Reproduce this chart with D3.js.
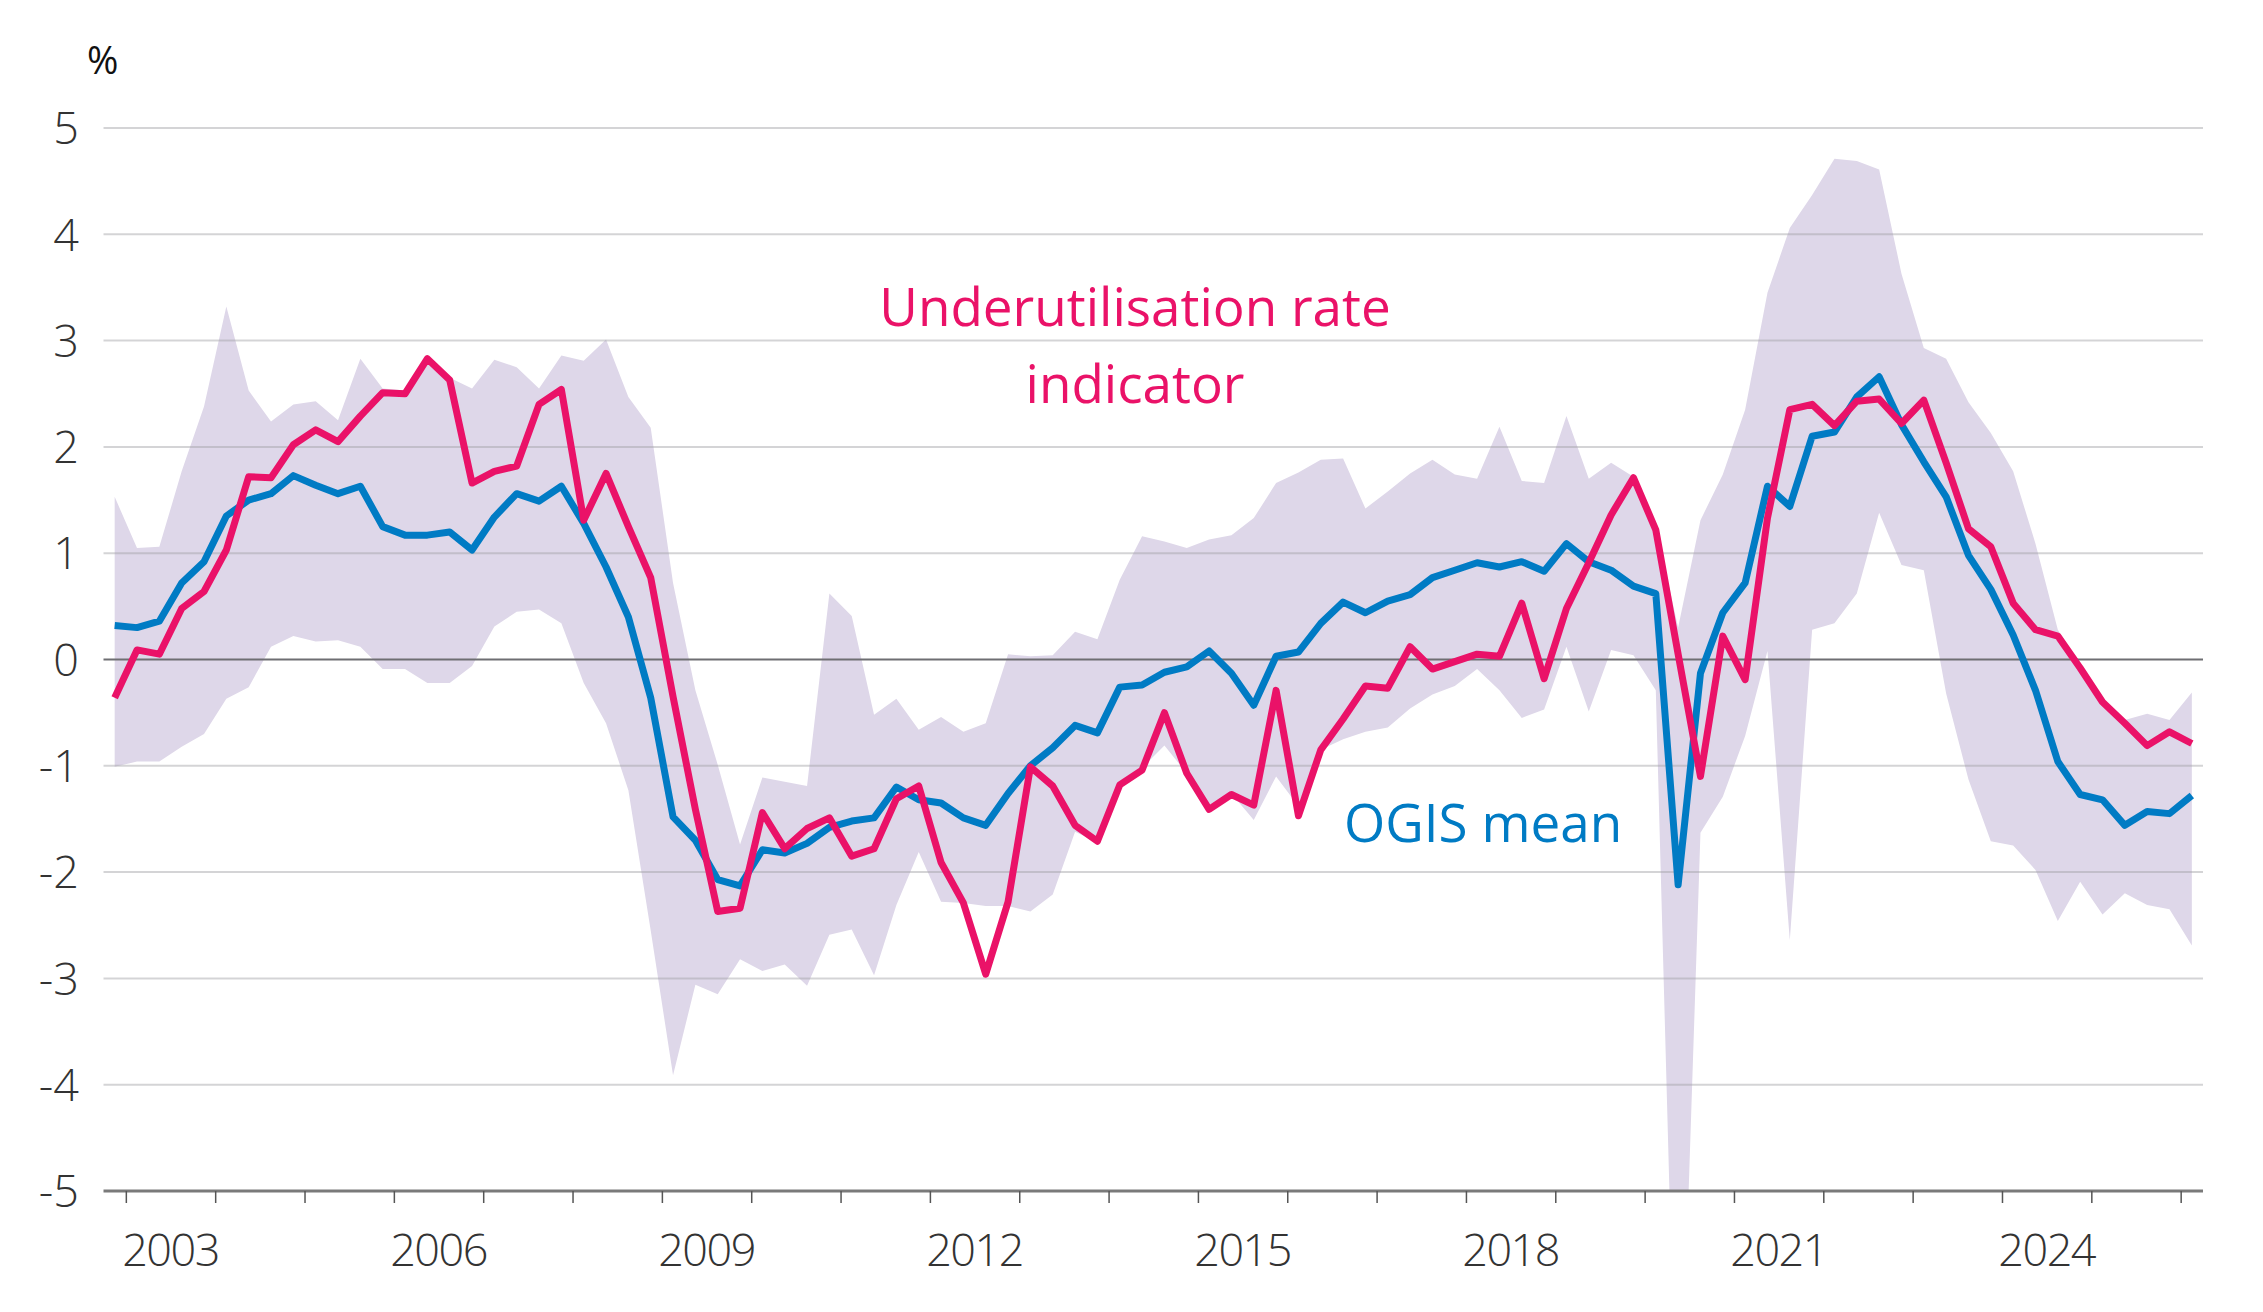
<!DOCTYPE html>
<html>
<head>
<meta charset="utf-8">
<script src="https://cdn.jsdelivr.net/npm/d3@7"></script>
<style>
  html, body { margin: 0; padding: 0; background: #fff; }
  svg { display: block; }
  text { font-family: "Open Sans", "Noto Sans", sans-serif; }
</style>
</head>
<body>
<svg id="chart" width="2263" height="1312"></svg>
<script>
// quarterly observations, 2002Q4 - 2026Q1
var quarters = [
  "2002Q4",
  "2003Q1","2003Q2","2003Q3","2003Q4", "2004Q1","2004Q2","2004Q3","2004Q4",
  "2005Q1","2005Q2","2005Q3","2005Q4", "2006Q1","2006Q2","2006Q3","2006Q4",
  "2007Q1","2007Q2","2007Q3","2007Q4", "2008Q1","2008Q2","2008Q3","2008Q4",
  "2009Q1","2009Q2","2009Q3","2009Q4", "2010Q1","2010Q2","2010Q3","2010Q4",
  "2011Q1","2011Q2","2011Q3","2011Q4", "2012Q1","2012Q2","2012Q3","2012Q4",
  "2013Q1","2013Q2","2013Q3","2013Q4", "2014Q1","2014Q2","2014Q3","2014Q4",
  "2015Q1","2015Q2","2015Q3","2015Q4", "2016Q1","2016Q2","2016Q3","2016Q4",
  "2017Q1","2017Q2","2017Q3","2017Q4", "2018Q1","2018Q2","2018Q3","2018Q4",
  "2019Q1","2019Q2","2019Q3","2019Q4", "2020Q1","2020Q2","2020Q3","2020Q4",
  "2021Q1","2021Q2","2021Q3","2021Q4", "2022Q1","2022Q2","2022Q3","2022Q4",
  "2023Q1","2023Q2","2023Q3","2023Q4", "2024Q1","2024Q2","2024Q3","2024Q4",
  "2025Q1","2025Q2","2025Q3","2025Q4",
  "2026Q1"
];

var ogisMean = [
  0.32,
  0.30, 0.36, 0.72, 0.92,  1.35, 1.50, 1.56, 1.73,
  1.64, 1.56, 1.63, 1.25,  1.17, 1.17, 1.20, 1.03,
  1.34, 1.56, 1.49, 1.63,  1.28, 0.87, 0.40, -0.36,
  -1.48, -1.70, -2.07, -2.13,  -1.79, -1.82, -1.73, -1.58,
  -1.52, -1.49, -1.20, -1.32,  -1.35, -1.49, -1.56, -1.26,
  -1.00, -0.83, -0.62, -0.69,  -0.26, -0.24, -0.12, -0.07,
  0.08, -0.13, -0.43, 0.03,  0.07, 0.34, 0.54, 0.44,
  0.55, 0.61, 0.77, 0.84,  0.91, 0.87, 0.92, 0.83,
  1.09, 0.92, 0.84, 0.69,  0.62, -2.12, -0.13, 0.44,
  0.72, 1.63, 1.44, 2.10,  2.14, 2.47, 2.66, 2.21,
  1.86, 1.53, 0.98, 0.66,  0.23, -0.29, -0.96, -1.27,
  -1.32, -1.56, -1.43, -1.45,
  -1.28
];

var underutilisation = [
  -0.36,
  0.09, 0.05, 0.48, 0.64,  1.03, 1.72, 1.71, 2.02,
  2.16, 2.05, 2.29, 2.51,  2.50, 2.83, 2.63, 1.66,
  1.77, 1.82, 2.40, 2.54,  1.31, 1.75, 1.25, 0.77,
  -0.35, -1.41, -2.37, -2.34,  -1.44, -1.78, -1.59, -1.49,
  -1.85, -1.78, -1.31, -1.19,  -1.91, -2.29, -2.96, -2.28,
  -1.01, -1.19, -1.56, -1.71,  -1.18, -1.04, -0.50, -1.07,
  -1.41, -1.27, -1.37, -0.29,  -1.47, -0.85, -0.56, -0.25,
  -0.27, 0.12, -0.09, -0.02,  0.05, 0.03, 0.53, -0.18,
  0.48, 0.91, 1.36, 1.71,  1.22, 0.05, -1.10, 0.22,
  -0.19, 1.33, 2.35, 2.40,  2.20, 2.43, 2.45, 2.22,
  2.44, 1.85, 1.23, 1.06,  0.53, 0.28, 0.22, -0.08,
  -0.40, -0.60, -0.81, -0.68,
  -0.79
];

// range of survey answers (shaded band)
var rangeHigh = [
  1.53,
  1.05, 1.06, 1.77, 2.38,  3.32, 2.53, 2.24, 2.40,
  2.43, 2.25, 2.83, 2.55,  2.53, 2.85, 2.65, 2.55,
  2.82, 2.75, 2.55, 2.86,  2.81, 3.01, 2.47, 2.18,
  0.72, -0.29, -0.99, -1.74,  -1.11, -1.15, -1.19, 0.62,
  0.41, -0.52, -0.37, -0.66,  -0.54, -0.68, -0.60, 0.05,
  0.03, 0.04, 0.26, 0.19,  0.75, 1.16, 1.11, 1.05,
  1.13, 1.17, 1.33, 1.66,  1.76, 1.88, 1.89, 1.42,
  1.58, 1.75, 1.88, 1.74,  1.70, 2.19, 1.68, 1.66,
  2.29, 1.70, 1.85, 1.72,  1.25, 0.30, 1.31, 1.74,
  2.35, 3.45, 4.06, 4.37,  4.71, 4.69, 4.61, 3.63,
  2.93, 2.83, 2.42, 2.13,  1.77, 1.09, 0.28, -0.05,
  -0.38, -0.57, -0.51, -0.57,
  -0.31
];

var rangeLow = [
  -1.01,
  -0.96, -0.96, -0.82, -0.70,  -0.37, -0.26, 0.12, 0.22,
  0.17, 0.18, 0.12, -0.09,  -0.09, -0.22, -0.22, -0.06,
  0.31, 0.45, 0.47, 0.34,  -0.22, -0.60, -1.23, -2.55,
  -3.91, -3.06, -3.15, -2.82,  -2.93, -2.87, -3.07, -2.59,
  -2.54, -2.97, -2.31, -1.81,  -2.28, -2.29, -2.32, -2.32,
  -2.37, -2.21, -1.62, -1.72,  -1.20, -1.02, -0.81, -1.07,
  -1.40, -1.26, -1.51, -1.10,  -1.38, -0.85, -0.75, -0.68,
  -0.64, -0.46, -0.33, -0.25,  -0.09, -0.29, -0.55, -0.47,
  0.12, -0.49, 0.09, 0.04,  -0.29, -8.00, -1.63, -1.29,
  -0.72, 0.08, -2.64, 0.28,  0.34, 0.62, 1.38, 0.89,
  0.84, -0.32, -1.13, -1.71,  -1.75, -1.98, -2.46, -2.09,
  -2.40, -2.20, -2.31, -2.35,
  -2.69
];

var yTicks = [5, 4, 3, 2, 1, 0, -1, -2, -3, -4, -5];
var yearTicks = d3.range(2003, 2027);
var yearLabels = [2003, 2006, 2009, 2012, 2015, 2018, 2021, 2024];

var
  width = 2263,
  height = 1312,
  plot = {left: 103.5, right: 2203, top: 128, bottom: 1191},
  pink = "#ea1268",
  blue = "#007bc4",
  band = "#ded7e9",

  // "2003Q1" -> middle of the quarter on a decimal year axis
  toYear = (q) => +q.slice(0, 4) + (+q.slice(5) - 1) / 4 + 0.125,

  x = d3.scaleLinear().domain([2002.75, 2026.25]).range([plot.left, plot.right]),
  y = d3.scaleLinear().domain([-5, 5]).range([plot.bottom, plot.top]),

  rows = quarters.map((q, i) => ({
    t: toYear(q),
    mean: ogisMean[i],
    rate: underutilisation[i],
    hi: rangeHigh[i],
    lo: rangeLow[i]
  }));

var svg = d3.select("#chart")
  .attr("viewBox", [0, 0, width, height]);

svg.append("defs").append("clipPath")
    .attr("id", "plot-clip")
  .append("rect")
    .attr("x", plot.left)
    .attr("y", plot.top - 10)
    .attr("width", plot.right - plot.left)
    .attr("height", plot.bottom - plot.top + 10);

// shaded range
svg.append("path")
  .datum(rows)
  .attr("clip-path", "url(#plot-clip)")
  .attr("fill", band)
  .attr("d", d3.area()
    .x((d) => x(d.t))
    .y0((d) => y(d.lo))
    .y1((d) => y(d.hi)));

// gridlines
svg.append("g")
  .selectAll("line")
  .data(yTicks.filter((v) => v !== 0 && v !== -5))
  .join("line")
    .attr("x1", plot.left)
    .attr("x2", plot.right)
    .attr("y1", (d) => y(d))
    .attr("y2", (d) => y(d))
    .attr("stroke", "rgba(160,160,165,0.45)")
    .attr("stroke-width", 2);

svg.append("line")
  .attr("x1", plot.left)
  .attr("x2", plot.right)
  .attr("y1", y(0))
  .attr("y2", y(0))
  .attr("stroke", "#6e6e72")
  .attr("stroke-width", 2);

// y axis labels
svg.append("g")
  .selectAll("text")
  .data(yTicks)
  .join("text")
    .attr("x", 79)
    .attr("y", (d) => y(d))
    .attr("dy", "0.36em")
    .attr("text-anchor", "end")
    .attr("font-size", 45)
    .attr("font-weight", 300)
    .attr("fill", "#333")
    .text((d) => String(d));

svg.append("text")
  .attr("x", 87)
  .attr("y", 74)
  .attr("font-size", 38)
  .attr("fill", "#111")
  .text("%");

// x axis
var xAxis = d3.axisBottom(x)
  .tickValues(yearTicks)
  .tickSize(12)
  .tickFormat("");

var gx = svg.append("g")
  .attr("transform", "translate(0," + plot.bottom + ")")
  .call(xAxis);

gx.select(".domain")
  .attr("d", "M" + plot.left + ",0H" + plot.right)
  .attr("stroke", "#7a7a7a")
  .attr("stroke-width", 3);
gx.selectAll(".tick line")
  .attr("stroke", "#555")
  .attr("stroke-width", 1.5);

svg.append("g")
  .selectAll("text")
  .data(yearLabels)
  .join("text")
    .attr("x", (d) => x(d + 0.5))
    .attr("y", 1266)
    .attr("text-anchor", "middle")
    .attr("font-size", 45)
    .attr("font-weight", 300)
    .attr("letter-spacing", -1.5)
    .attr("fill", "#333")
    .text((d) => d);

// series
var line = (key) => d3.line()
  .x((d) => x(d.t))
  .y((d) => y(d[key]));

svg.append("path")
  .datum(rows)
  .attr("fill", "none")
  .attr("stroke", blue)
  .attr("stroke-width", 7)
  .attr("stroke-linejoin", "round")
  .attr("d", line("mean"));

svg.append("path")
  .datum(rows)
  .attr("fill", "none")
  .attr("stroke", pink)
  .attr("stroke-width", 7)
  .attr("stroke-linejoin", "round")
  .attr("d", line("rate"));

// direct labels
var pinkLabel = svg.append("text")
  .attr("text-anchor", "middle")
  .attr("font-size", 53)
  .attr("fill", pink);
pinkLabel.append("tspan").attr("x", 1135).attr("y", 326).text("Underutilisation rate");
pinkLabel.append("tspan").attr("x", 1135).attr("y", 403).text("indicator");

svg.append("text")
  .attr("x", 1344)
  .attr("y", 842)
  .attr("font-size", 53)
  .attr("fill", blue)
  .text("OGIS mean");
</script>
</body>
</html>
